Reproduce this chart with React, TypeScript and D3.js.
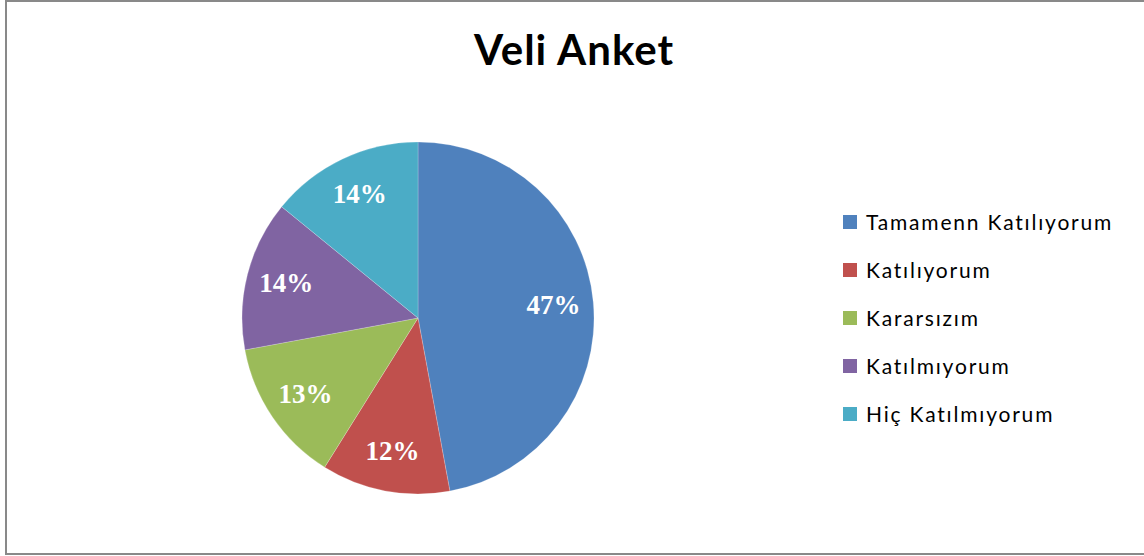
import React from "react";
import * as d3 from "d3";

const categories = ["Tamamenn Katılıyorum", "Katılıyorum", "Kararsızım", "Katılmıyorum", "Hiç Katılmıyorum"];
const values = [47.1, 11.8, 13.2, 13.8, 14.1];
const colors = ["#4F81BD", "#C0504D", "#9BBB59", "#8064A2", "#4BACC6"];
const title = "Veli Anket";

export default function App() {
  const W = 1144, H = 556;
  const cx = 418, cy = 318, r = 176;
  const total = d3.sum(values);
  const pie = d3.pie<number>().sort(null).value((d) => d)(values);
  const arc = d3.arc<d3.PieArcDatum<number>>().innerRadius(0).outerRadius(r);
  const labelArc = d3.arc<d3.PieArcDatum<number>>().innerRadius(136).outerRadius(136);
  const legendY = d3.scalePoint<string>().domain(categories).range([222, 414]);

  return (
    <svg width={W} height={H} style={{ position: "absolute", left: 0, top: 0 }}>
      <rect x={0} y={0} width={W} height={H} fill="#fff" />
      <rect x={6} y={1} width={1142} height={553} fill="none" stroke="#898989" strokeWidth={2} />
      <text x={574} y={65} textAnchor="middle" fontFamily="Lato, 'Open Sans', sans-serif" fontWeight={700} fontSize={42} letterSpacing={1} fill="#000">{title}</text>
      <g transform={`translate(${cx},${cy})`}>
        {pie.map((p, i) => (
          <path key={i} d={arc(p) || ""} fill={colors[i]} stroke="#ffffff" strokeOpacity={0.35} strokeWidth={0.6} />
        ))}
        {pie.map((p, i) => {
          const [x, y] = labelArc.centroid(p);
          return (
            <text key={i} x={x} y={y} dy="0.3em" textAnchor="middle" fontFamily="'Liberation Serif', 'Times New Roman', serif" fontWeight={700} fontSize={27} fill="#fff">
              {`${Math.round((p.value / total) * 100)}%`}
            </text>
          );
        })}
      </g>
      <g>
        {categories.map((c, i) => (
          <g key={c} transform={`translate(843,${legendY(c)})`}>
            <rect x={0} y={-7} width={14} height={14} fill={colors[i]} />
            <text x={23} y={0} dy="0.36em" fontFamily="Lato, 'Open Sans', sans-serif" fontSize={21} letterSpacing={1.8} fill="#000">{c}</text>
          </g>
        ))}
      </g>
    </svg>
  );
}
